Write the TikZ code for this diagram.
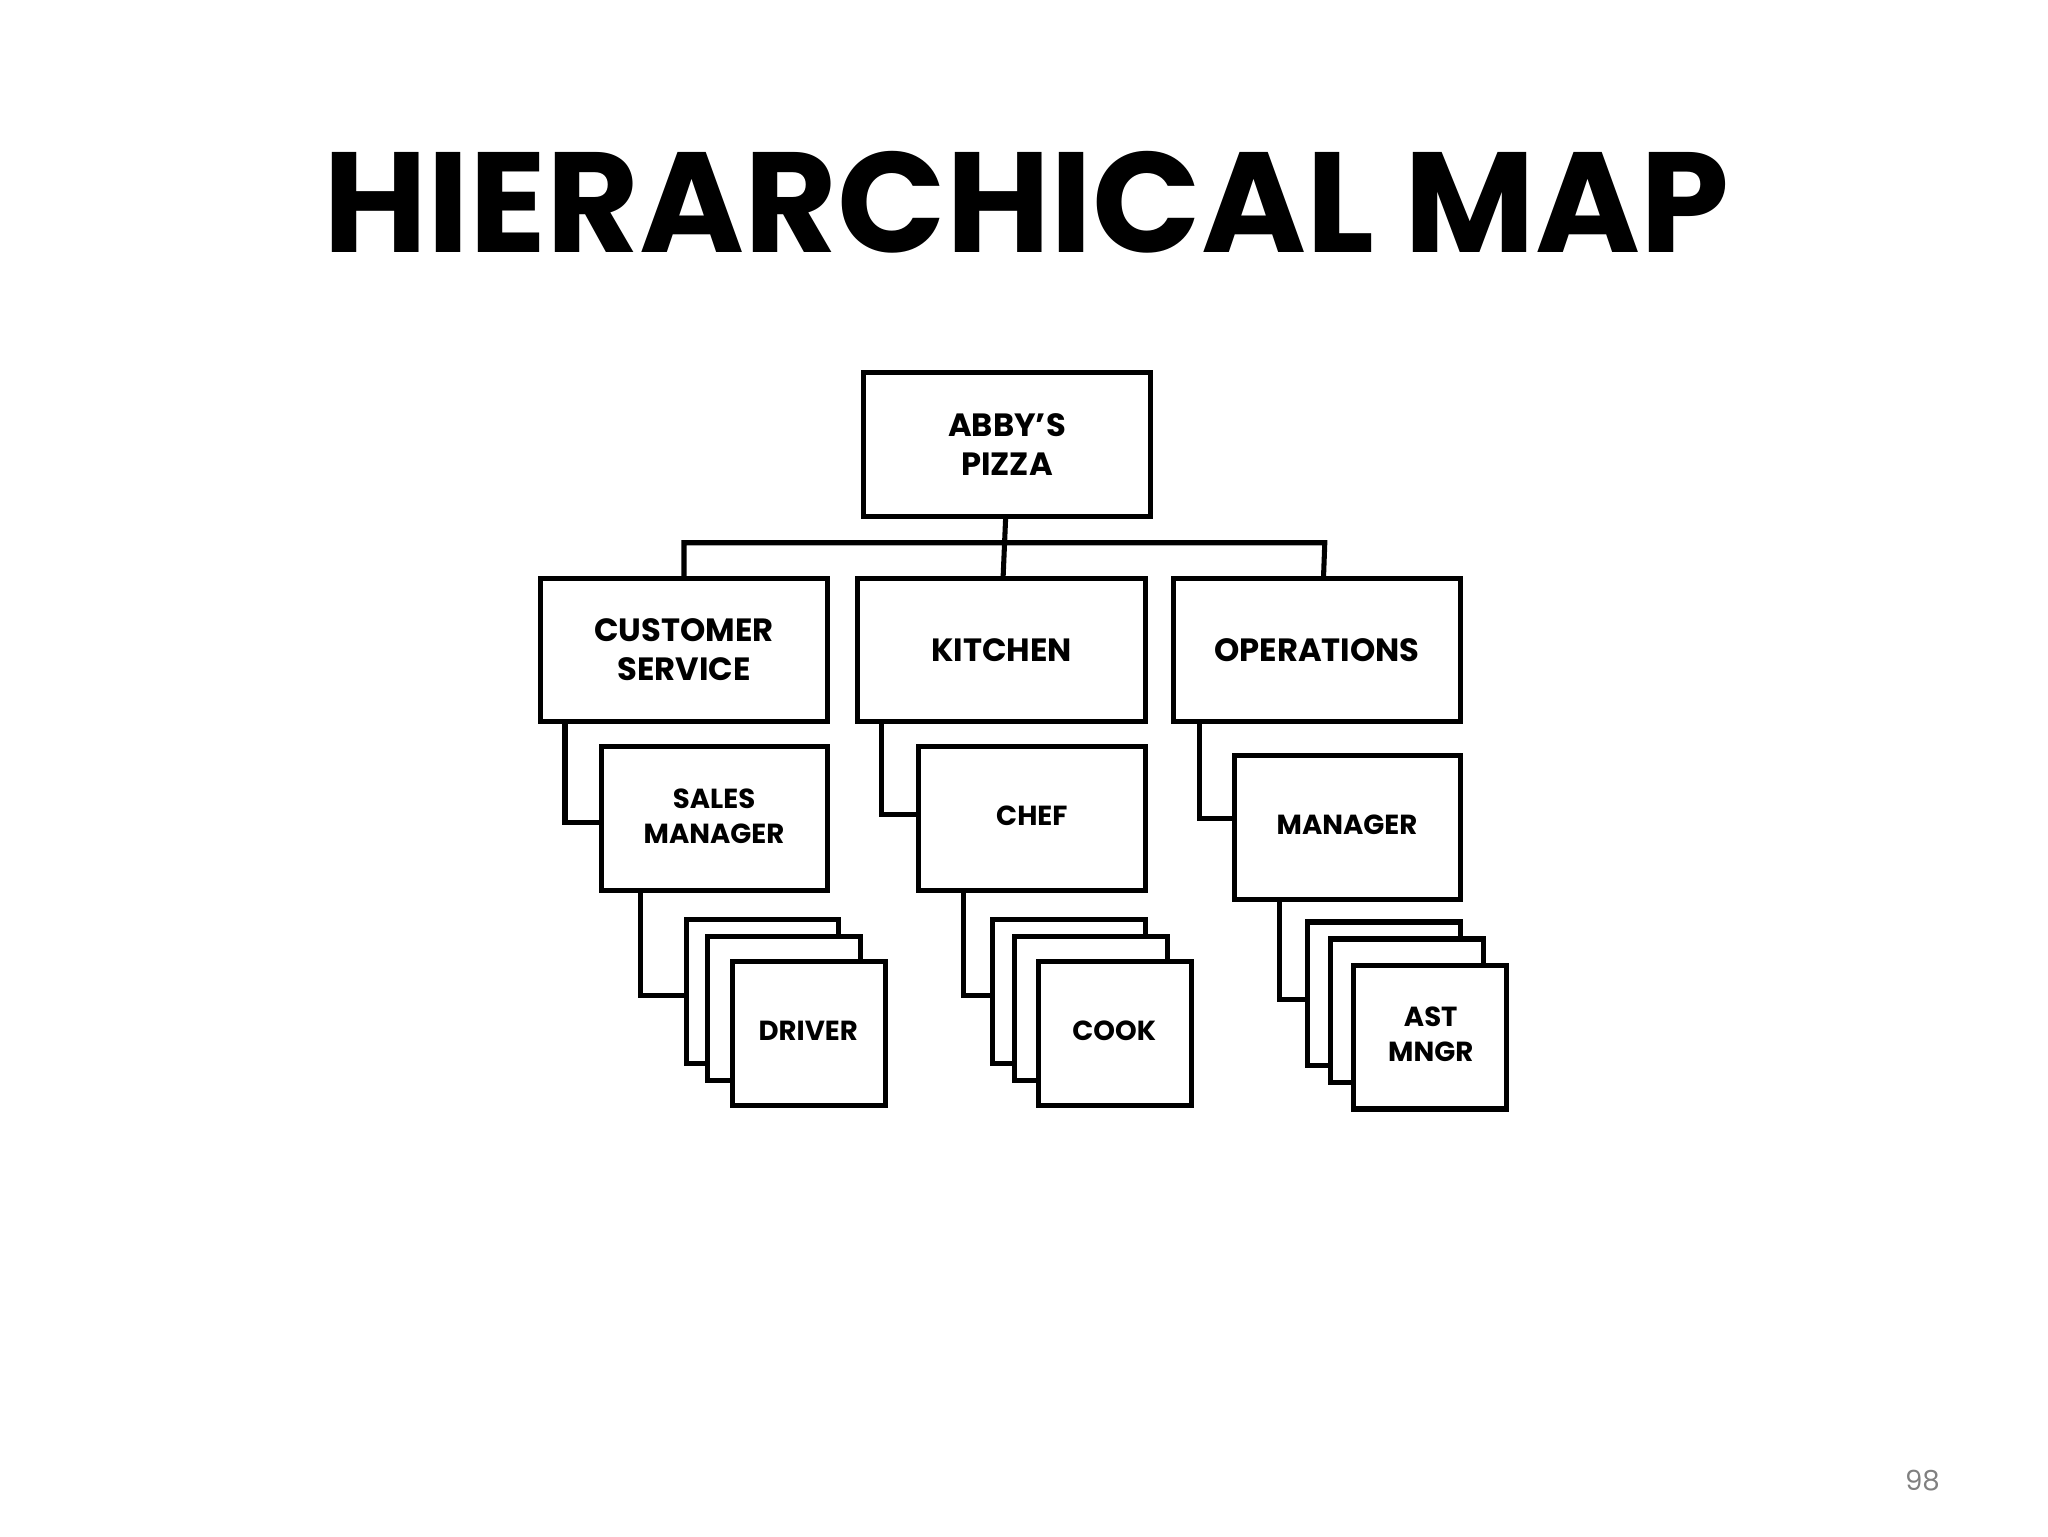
\documentclass[tikz,border=0pt]{standalone}
\usepackage{fontspec}
\setmainfont{Poppins}
\begin{document}
\begin{tikzpicture}[x=0.01cm,y=-0.01cm,
  ln/.style={line width=1.1pt},
  lb/.style={font=\bfseries\fontsize{6}{7.5}\selectfont,align=center},
  lbb/.style={font=\bfseries\fontsize{7}{8.5}\selectfont,align=center}]
\useasboundingbox (0,0) rectangle (1566,1175);
\node[font=\bfseries\fontsize{31}{36}\selectfont] (title) at (785,155) {HIERARCHICAL MAP};
\node[text=gray,font=\fontsize{6}{7}\selectfont] (pg) at (1470,1132) {98};
\draw[ln,fill=white] (660,285) rectangle (880,395);
\node[lbb] (abby) at (770,340) {ABBY'S\\PIZZA};
\draw[ln] (769,395) -- (767,442);
\draw[ln] (523,442) -- (523,415) -- (1013,415) -- (1012,442);
\draw[ln] (413,442) rectangle (633,552);
\node[lbb] (cs) at (523,497) {CUSTOMER\\SERVICE};
\draw[ln] (656,442) rectangle (876,552);
\node[lbb] (kit) at (766,497) {KITCHEN};
\draw[ln] (897,442) rectangle (1117,552);
\node[lbb] (ops) at (1007,497) {OPERATIONS};
% level 2
\draw[ln] (432,552) -- (432,629) -- (460,629);
\draw[ln] (460,571) rectangle (633,681);
\node[lb] (sm) at (546,624) {SALES\\MANAGER};
\draw[ln] (674,552) -- (674,623) -- (702,623);
\draw[ln] (702,571) rectangle (876,681);
\node[lb] (chef) at (789,624) {CHEF};
\draw[ln] (917,552) -- (917,626) -- (944,626);
\draw[ln] (944,578) rectangle (1117,688);
\node[lb] (mgr) at (1030,631) {MANAGER};
% level 3
\draw[ln] (490,681) -- (490,761) -- (525,761);
\draw[ln,fill=white] (525,703) rectangle (641,813);
\draw[ln,fill=white] (541,716) rectangle (658,826);
\draw[ln,fill=white] (560,735) rectangle (677,845);
\node[lb] (drv) at (618,788) {DRIVER};
\draw[ln] (737,681) -- (737,761) -- (759,761);
\draw[ln,fill=white] (759,703) rectangle (876,813);
\draw[ln,fill=white] (776,716) rectangle (893,826);
\draw[ln,fill=white] (794,735) rectangle (911,845);
\node[lb] (cook) at (852,788) {COOK};
\draw[ln] (978,688) -- (978,764) -- (1000,764);
\draw[ln,fill=white] (1000,705) rectangle (1117,815);
\draw[ln,fill=white] (1017,718) rectangle (1134,828);
\draw[ln,fill=white] (1035,738) rectangle (1152,848);
\node[lb] (ast) at (1094,791) {AST\\MNGR};
\end{tikzpicture}
\end{document}
